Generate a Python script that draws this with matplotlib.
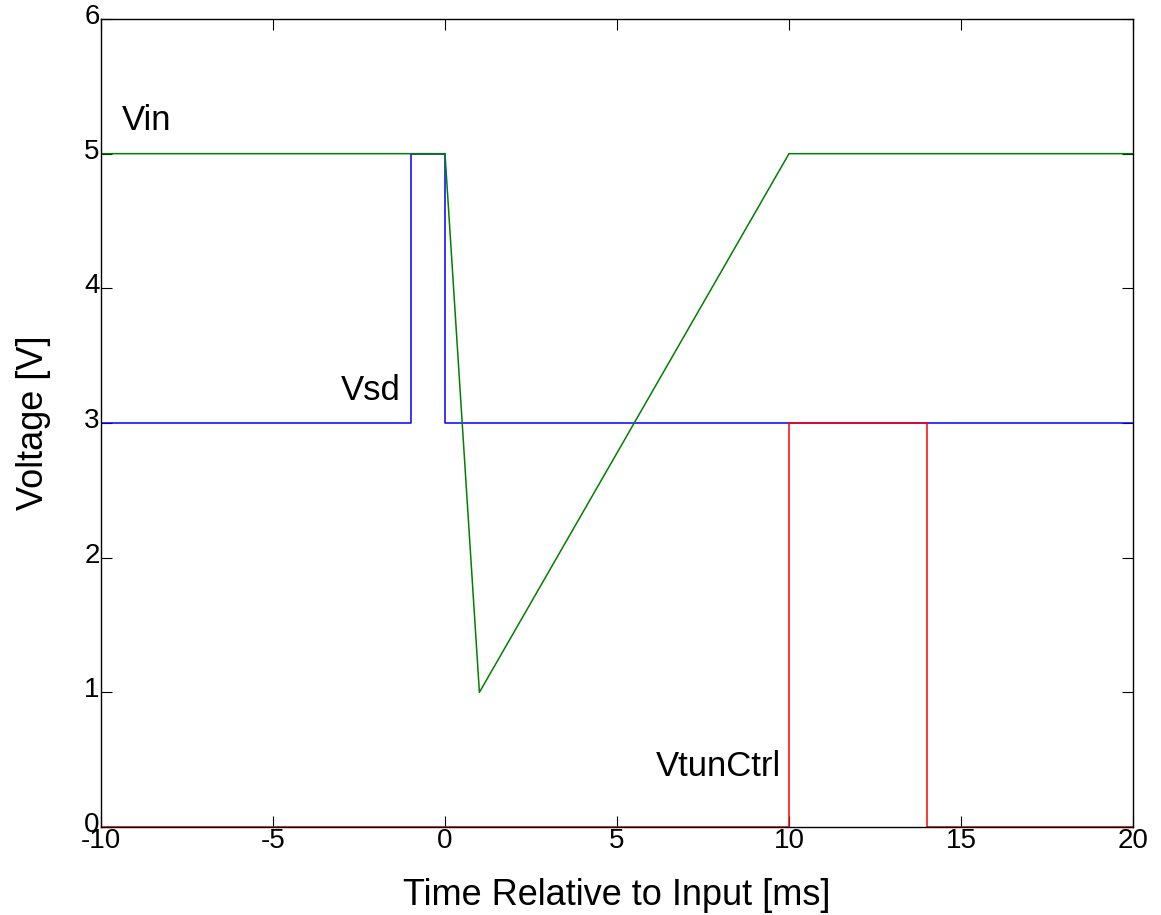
import matplotlib
matplotlib.use("Agg")
import matplotlib.pyplot as plt
import matplotlib.transforms as mtransforms

# signal waveforms (time in ms, voltage in V)
t_vsd = [-10, -1, -1, 0, 0, 20]
v_vsd = [3, 3, 5, 5, 3, 3]

t_vin = [-10, 0, 1, 10, 20]
v_vin = [5, 5, 1, 5, 5]

t_vtun = [-10, 10, 10, 14, 14, 20]
v_vtun = [0, 0, 3, 3, 0, 0]

xticks = [-10, -5, 0, 5, 10, 15, 20]
yticks = [0, 1, 2, 3, 4, 5, 6]

plt.rcParams['font.family'] = ['Liberation Sans', 'DejaVu Sans']
plt.rcParams['axes.unicode_minus'] = False

fig = plt.figure(figsize=(11.61, 9.15), dpi=100)
ax = fig.add_axes([101 / 1161, 1 - 827 / 915, (1133 - 101) / 1161, (827 - 19) / 915])

ax.plot(t_vsd, v_vsd, color=(0, 0, 1), lw=1.1)
ax.plot(t_vin, v_vin, color=(0, 0.5, 0), lw=1.1)
ax.plot(t_vtun, v_vtun, color=(1, 0, 0), lw=1.1)

ax.text(-9.4, 5.25, 'Vin', fontsize=25, va='center', ha='left')
ax.text(-1.3, 3.24, 'Vsd', fontsize=25, va='center', ha='right')
ax.text(9.77, 0.45, 'VtunCtrl', fontsize=25, va='center', ha='right')

ax.set_xlim(-10, 20)
ax.set_ylim(0, 6)
ax.set_xticks(xticks)
ax.set_yticks(yticks)
ax.tick_params(direction='in', length=8, width=0.8, labelsize=20, pad=1,
               top=True, right=True)
for s in ax.spines.values():
    s.set_linewidth(1)

# MATLAB puts y tick labels a touch above the tick
shift = mtransforms.ScaledTranslation(0, 5 / 100, fig.dpi_scale_trans)
for lbl in ax.get_yticklabels():
    lbl.set_transform(lbl.get_transform() + shift)

ax.set_xlabel('Time Relative to Input [ms]', fontsize=26, labelpad=17)
ax.set_ylabel('Voltage [V]', fontsize=26, labelpad=24)

fig.savefig('out.png', dpi=100)
